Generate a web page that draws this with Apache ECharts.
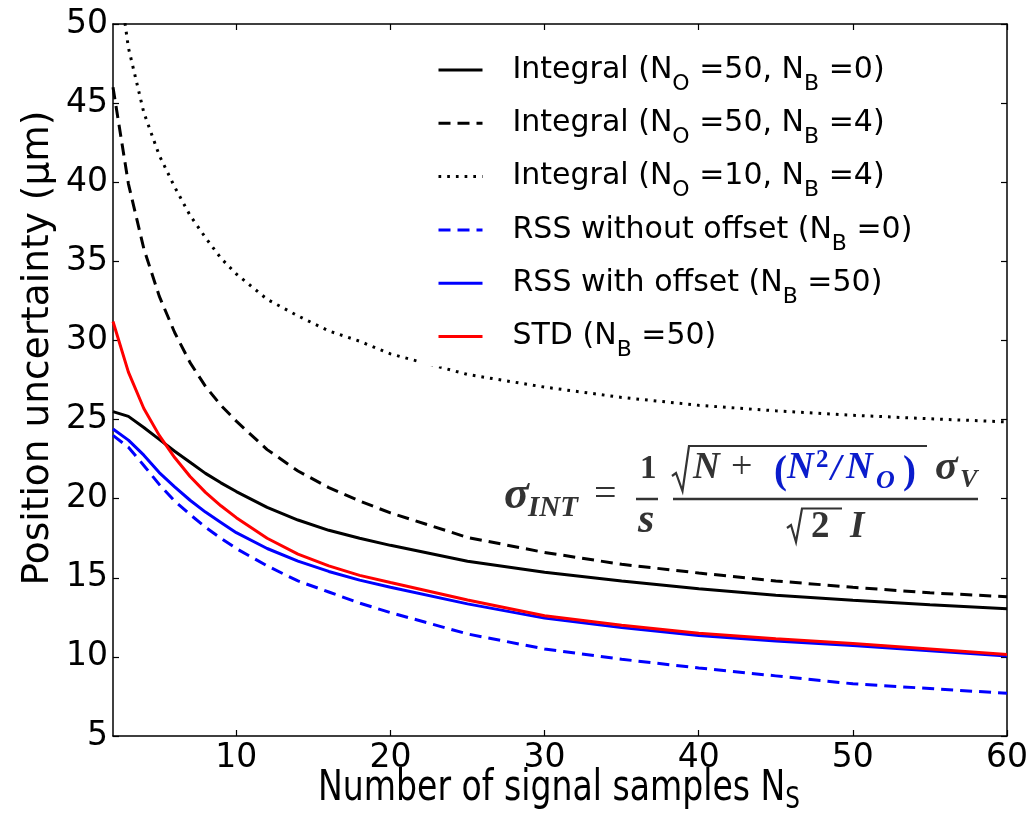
<!DOCTYPE html>
<html>
<head>
<meta charset="utf-8">
<script src="https://cdn.jsdelivr.net/npm/echarts@6/dist/echarts.min.js"></script>
<style>
  html, body { margin: 0; padding: 0; background: #fff; }
  #chart { width: 1033px; height: 817px; }
</style>
</head>
<body>
<div id="chart"></div>
<script>
// --- DATA ---
const nSamples = [2, 3, 4, 5, 6, 7, 8, 9, 10, 12, 14, 16, 18, 20, 25, 30, 35, 40, 45, 50, 55, 60];
const integralNo50Nb0 = [25.5, 25.2, 24.5, 23.75, 23.0, 22.3, 21.6, 21.0, 20.45, 19.45, 18.65, 18.0, 17.5, 17.05, 16.05, 15.35, 14.8, 14.3, 13.9, 13.58, 13.3, 13.05];
const integralNo50Nb4 = [46.0, 39.9, 35.8, 32.8, 30.5, 28.6, 27.1, 25.9, 24.9, 23.1, 21.75, 20.7, 19.85, 19.1, 17.55, 16.6, 15.85, 15.3, 14.8, 14.4, 14.05, 13.8];
const integralNo10Nb4 = [55.5, 48.5, 44.4, 41.7, 39.7, 37.9, 36.5, 35.2, 34.2, 32.6, 31.55, 30.6, 29.95, 29.15, 27.85, 27.05, 26.4, 25.9, 25.55, 25.27, 25.05, 24.85];
const rssNoOffset = [24.0, 23.25, 22.1, 20.9, 19.85, 19.0, 18.2, 17.5, 16.85, 15.75, 14.8, 14.1, 13.4, 12.8, 11.45, 10.5, 9.85, 9.3, 8.8, 8.3, 8.0, 7.7];
const rssOffset = [24.4, 23.7, 22.75, 21.65, 20.75, 19.9, 19.15, 18.5, 17.85, 16.85, 16.05, 15.4, 14.85, 14.4, 13.35, 12.45, 11.85, 11.35, 11.0, 10.72, 10.38, 10.05];
const stdNb50 = [31.2, 28.0, 25.7, 24.0, 22.6, 21.4, 20.4, 19.55, 18.8, 17.5, 16.5, 15.75, 15.15, 14.7, 13.6, 12.6, 12.0, 11.5, 11.15, 10.85, 10.5, 10.15];

const xTicks = [10, 20, 30, 40, 50, 60];

const seriesNames = [
  'Integral (NO =50, NB =0)',
  'Integral (NO =50, NB =4)',
  'Integral (NO =10, NB =4)',
  'RSS without offset (NB =0)',
  'RSS with offset (NB =50)',
  'STD (NB =50)'
];
const legendRich = [
  '{g| }{t|Integral (N}{s|O}{t| =50, N}{s|B}{t| =0)}',
  '{g| }{t|Integral (N}{s|O}{t| =50, N}{s|B}{t| =4)}',
  '{g| }{t|Integral (N}{s|O}{t| =10, N}{s|B}{t| =4)}',
  '{g| }{t|RSS without offset (N}{s|B}{t| =0)}',
  '{g| }{t|RSS with offset (N}{s|B}{t| =50)}',
  '{g| }{t|STD (N}{s|B}{t| =50)}'
];

document.addEventListener('DOMContentLoaded', () => {
  const chart = echarts.init(document.getElementById('chart'), null, { renderer: 'canvas' });
  const FONT = 'DejaVu Sans';
  const MATH = '"Liberation Serif", serif';
  const INK = '#333333';
  const BLUE_INK = '#0a1ccc';
  const DASH = [12, 7];
  const DOT = [2.7, 6];

  const pairs = arr => nSamples.map((n, i) => [n, arr[i]]);

  const lineSeries = (idx, arr, color, type) => ({
    name: seriesNames[idx],
    type: 'line',
    data: pairs(arr),
    symbol: 'none',
    clip: true,
    itemStyle: { color },
    lineStyle: { color, width: 3, type },
    emphasis: { disabled: true }
  });

  // formula piece placed by its baseline
  const mt = (text, x, baseline, size, opts = {}) => ({
    type: 'text', x, y: baseline - 0.33 * size, silent: true, z: 20,
    style: {
      text, fontSize: size, fontFamily: MATH,
      fontWeight: opts.weight || 'bold', fontStyle: opts.style || 'italic',
      fill: opts.color || INK, align: 'left', verticalAlign: 'middle'
    }
  });
  const rule = (points, width) => ({
    type: 'polyline', silent: true, z: 20,
    shape: { points },
    style: { stroke: INK, lineWidth: width || 2.2, fill: null }
  });

  const axisLineStyle = { show: true, onZero: false, lineStyle: { color: '#000', width: 1.5 } };
  const tickStyle = { color: '#000', width: 1.2 };

  const option = {
    animation: false,
    backgroundColor: '#fff',
    grid: { left: 113, right: 26, top: 24, bottom: 81 },
    xAxis: [
      {
        type: 'value', min: 2, max: 60, position: 'bottom',
        axisLine: axisLineStyle,
        axisTick: { show: true, inside: true, length: 6, customValues: xTicks, lineStyle: tickStyle },
        axisLabel: { customValues: xTicks, fontSize: 33, fontFamily: FONT, color: '#000', margin: 6 },
        splitLine: { show: false }
      },
      {
        type: 'value', min: 2, max: 60, position: 'top',
        axisLine: axisLineStyle,
        axisTick: { show: true, inside: true, length: 6, customValues: xTicks, lineStyle: tickStyle },
        axisLabel: { show: false },
        splitLine: { show: false }
      }
    ],
    yAxis: [
      {
        type: 'value', min: 5, max: 50, interval: 5, position: 'left',
        axisLine: axisLineStyle,
        axisTick: { show: true, inside: true, length: 6, lineStyle: tickStyle },
        axisLabel: { fontSize: 33, fontFamily: FONT, color: '#000', margin: 5 },
        splitLine: { show: false }
      },
      {
        type: 'value', min: 5, max: 50, interval: 5, position: 'right',
        axisLine: axisLineStyle,
        axisTick: { show: true, inside: true, length: 6, lineStyle: tickStyle },
        axisLabel: { show: false },
        splitLine: { show: false }
      }
    ],
    legend: {
      orient: 'vertical',
      left: 417, top: 41,
      padding: [4, 14, 5, 20],
      itemWidth: 44, itemHeight: 14, itemGap: 3.3,
      backgroundColor: '#fff',
      selectedMode: false,
      data: seriesNames,
      itemStyle: { color: 'rgba(0,0,0,0)', borderColor: 'rgba(0,0,0,0)', borderWidth: 0, opacity: 0 },
      lineStyle: { width: 3 },
      formatter: name => legendRich[seriesNames.indexOf(name)],
      textStyle: {
        rich: {
          g: { width: 25, fontSize: 30, fontFamily: FONT },
          t: { fontSize: 30, fontFamily: FONT, color: '#000', lineHeight: 50 },
          s: { fontSize: 22, fontFamily: FONT, color: '#000', lineHeight: 22, padding: [28, 0, 0, 0] }
        }
      }
    },
    series: [
      lineSeries(0, integralNo50Nb0, '#000000', 'solid'),
      lineSeries(1, integralNo50Nb4, '#000000', DASH),
      lineSeries(2, integralNo10Nb4, '#000000', DOT),
      lineSeries(3, rssNoOffset, '#0000ff', DASH),
      lineSeries(4, rssOffset, '#0000ff', 'solid'),
      lineSeries(5, stdNb50, '#ff0000', 'solid')
    ],
    graphic: [
      // axis titles
      {
        type: 'text', x: 38, y: 348, rotation: Math.PI / 2, silent: true,
        style: { text: 'Position uncertainty (μm)', fontSize: 37.5, fontFamily: FONT, fill: '#000', align: 'center', verticalAlign: 'middle' }
      },
      {
        type: 'text', x: 559, y: 789, scaleX: 0.77, silent: true,
        style: {
          text: '{a|Number of signal samples N}{b|S}', align: 'center', verticalAlign: 'middle',
          rich: {
            a: { fontSize: 43, fontFamily: FONT, fill: '#000', lineHeight: 50 },
            b: { fontSize: 30, fontFamily: FONT, fill: '#000', lineHeight: 30, padding: [22, 0, 0, 0] }
          }
        }
      },
      // formula: sigma_INT = (1/s) * sqrt(N + N^2/N_O) sigma_V / (sqrt(2) I)
      mt('σ', 504, 511, 46),
      mt('INT', 528, 518, 29),
      mt('=', 594, 509, 40, { weight: 'normal', style: 'normal' }),
      mt('1', 640, 480, 33, { style: 'normal' }),
      rule([[636, 499], [658, 499]], 2.5),
      mt('s', 638, 535, 42),
      rule([[672, 476], [676, 473], [682.5, 491], [689, 446], [927, 446]], 2.2),
      mt('N', 693, 481, 37),
      mt('+', 731, 481, 38, { weight: 'normal', style: 'normal' }),
      mt('(', 774, 486, 39, { style: 'normal', color: BLUE_INK }),
      mt('N', 787, 481, 37, { color: BLUE_INK }),
      mt('2', 816, 469, 25, { style: 'normal', color: BLUE_INK }),
      mt('/', 831, 483, 37, { color: BLUE_INK }),
      mt('N', 846, 481, 37, { color: BLUE_INK }),
      mt('O', 876, 490, 26, { color: BLUE_INK }),
      mt(')', 903, 486, 39, { style: 'normal', color: BLUE_INK }),
      mt('σ', 935, 482, 42),
      mt('V', 960, 489, 26),
      rule([[673, 499], [978, 499]], 2.5),
      rule([[787, 528], [791, 525], [796, 542], [802, 508.5], [842, 508.5]], 2.2),
      mt('2', 811, 540, 37, { style: 'normal' }),
      mt('I', 850, 540, 37)
    ]
  };

  chart.setOption(option);
});
</script>
</body>
</html>
